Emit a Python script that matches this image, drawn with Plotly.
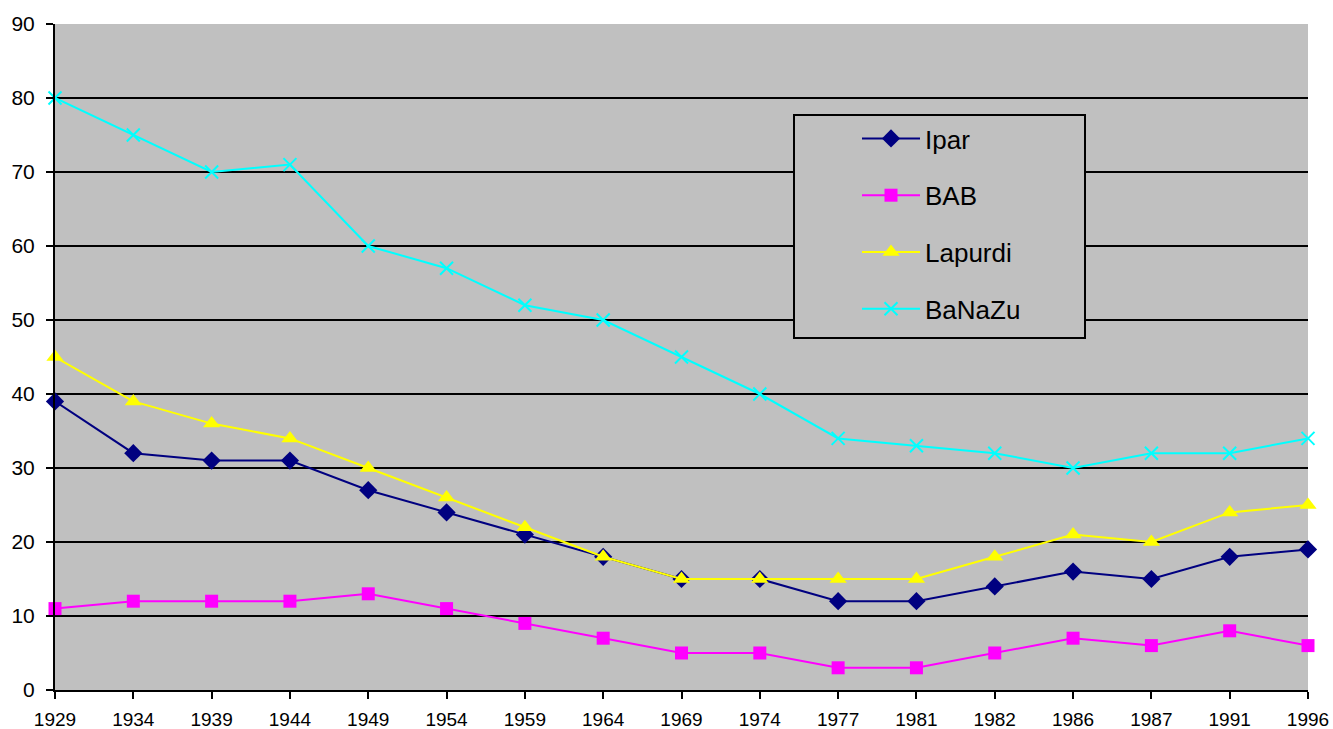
import plotly.graph_objects as go

years = ["1929", "1934", "1939", "1944", "1949", "1954", "1959", "1964", "1969",
         "1974", "1977", "1981", "1982", "1986", "1987", "1991", "1996"]
ipar = [39, 32, 31, 31, 27, 24, 21, 18, 15, 15, 12, 12, 14, 16, 15, 18, 19]
bab = [11, 12, 12, 12, 13, 11, 9, 7, 5, 5, 3, 3, 5, 7, 6, 8, 6]
lapurdi = [45, 39, 36, 34, 30, 26, 22, 18, 15, 15, 15, 15, 18, 21, 20, 24, 25]
banazu = [80, 75, 70, 71, 60, 57, 52, 50, 45, 40, 34, 33, 32, 30, 32, 32, 34]
y_ticks = [0, 10, 20, 30, 40, 50, 60, 70, 80, 90]

series = [
    ("Ipar", ipar, "#000080", dict(symbol="diamond", size=14, color="#000080")),
    ("BAB", bab, "#FF00FF", dict(symbol="square", size=13, color="#FF00FF")),
    ("Lapurdi", lapurdi, "#FFFF00", dict(symbol="triangle-up", size=15, color="#FFFF00")),
    ("BaNaZu", banazu, "#00FFFF", dict(symbol="x-thin", size=13, color="#00FFFF",
                                        line=dict(color="#00FFFF", width=2))),
]

fig = go.Figure()
for name, vals, col, mk in series:
    fig.add_trace(go.Scatter(
        x=years, y=vals, name=name, mode="lines+markers",
        line=dict(color=col, width=2), marker=mk, cliponaxis=False,
        legendgroup=name,
    ))

W, H = 1333, 729
L, R, T, B = 55, 25, 24, 39
pw, ph = W - L - R, H - T - B

fig.update_layout(
    template="none",
    width=W, height=H,
    margin=dict(l=L, r=R, t=T, b=B, pad=0),
    paper_bgcolor="white",
    plot_bgcolor="#C0C0C0",
    font=dict(family="Liberation Sans, Arial", size=20, color="black"),
    showlegend=True,
    legend=dict(
        x=(857 - L) / pw, y=(H - B - 115) / ph, xanchor="left", yanchor="top",
        bgcolor="rgba(0,0,0,0)", borderwidth=0,
        font=dict(size=26, color="black"),
        tracegroupgap=20, traceorder="grouped", itemwidth=58,
    ),
    shapes=[dict(type="rect", xref="paper", yref="paper",
                 x0=(794 - L) / pw, x1=(1085 - L) / pw,
                 y0=(H - B - 338) / ph, y1=(H - B - 115) / ph,
                 line=dict(color="black", width=2), fillcolor="#C0C0C0",
                 layer="above")],
    xaxis=dict(
        type="category", range=[0, len(years) - 1], automargin=False,
        showgrid=False, showline=True, linecolor="black", linewidth=2,
        ticks="outside", ticklen=7, tickwidth=2, tickcolor="black",
        tickfont=dict(size=19), zeroline=False, ticklabelstandoff=4,
    ),
    yaxis=dict(
        range=[0, 90], tickvals=y_ticks, automargin=False,
        showgrid=True, gridcolor="black", gridwidth=2,
        showline=True, linecolor="black", linewidth=2,
        ticks="outside", ticklen=7, tickwidth=2, tickcolor="black",
        tickfont=dict(size=21), zeroline=False, ticklabelstandoff=7,
    ),
)

fig.write_html("out.html", config={"displayModeBar": False},
               post_script="document.body.style.margin='0';")
